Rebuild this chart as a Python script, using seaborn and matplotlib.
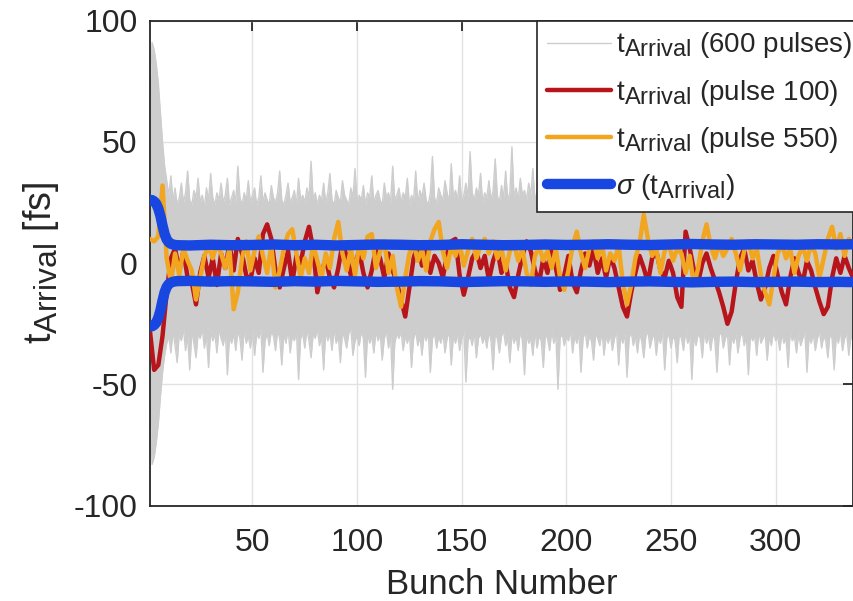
import numpy as np
import pandas as pd
import matplotlib
matplotlib.use("Agg")
import matplotlib.pyplot as plt
import matplotlib._mathtext as _mathtext
import seaborn as sns

# Upper envelope of the arrival time over all 600 pulses, bunch 1..337
env_upper = [
    70, 91, 88, 82, 74, 62, 50, 40, 34, 28, 36, 26, 31, 24, 27, 33, 25, 29, 38, 26,
    24, 30, 27, 35, 25, 28, 23, 31, 26, 37, 27, 24, 29, 26, 33, 25, 28, 35, 24, 27,
    30, 25, 40, 27, 24, 29, 26, 34, 25, 28, 31, 24, 27, 36, 25, 29, 26, 24, 32, 27,
    25, 29, 38, 26, 24, 28, 33, 25, 27, 30, 24, 35, 26, 28, 25, 31, 27, 42, 26, 29,
    24, 28, 26, 33, 25, 29, 37, 26, 24, 30, 27, 25, 34, 28, 26, 24, 31, 27, 39, 25,
    28, 26, 32, 24, 29, 27, 36, 25, 28, 30, 26, 24, 33, 27, 29, 25, 40, 26, 28, 31,
    25, 29, 27, 35, 24, 28, 26, 38, 25, 30, 27, 33, 26, 24, 29, 44, 27, 25, 31, 28,
    26, 34, 29, 25, 41, 27, 30, 26, 36, 25, 28, 33, 27, 46, 29, 26, 31, 28, 37, 25,
    29, 27, 34, 26, 30, 43, 28, 25, 32, 27, 38, 26, 29, 48, 27, 31, 26, 35, 28, 30,
    26, 33, 28, 39, 25, 30, 27, 35, 26, 29, 42, 27, 31, 25, 28, 36, 26, 30, 27, 33,
    25, 29, 38, 26, 31, 27, 34, 25, 28, 40, 26, 30, 27, 33, 25, 29, 36, 27, 31, 26,
    28, 35, 26, 30, 27, 41, 25, 29, 33, 26, 28, 37, 27, 30, 25, 44, 28, 31, 26, 34,
    27, 30, 25, 36, 28, 26, 32, 29, 39, 26, 28, 31, 25, 35, 27, 30, 26, 33, 28, 25,
    31, 27, 38, 26, 29, 34, 27, 25, 30, 42, 26, 28, 33, 27, 31, 25, 36, 28, 30, 26,
    29, 35, 27, 31, 26, 39, 28, 30, 25, 33, 27, 29, 37, 26, 31, 28, 34, 25, 30, 27,
    32, 26, 29, 36, 27, 31, 25, 40, 28, 30, 26, 34, 27, 29, 33, 26, 31, 28, 37, 27,
    30, 26, 35, 28, 31, 27, 33, 25, 29, 38, 27, 30, 26, 34, 28, 31, 29,
]
# Lower envelope, bunch 1..337
env_lower = [
    -60, -83, -80, -74, -66, -55, -45, -38, -33, -30, -37, -28, -34, -41, -29, -32, -27, -36, -30, -44,
    -28, -33, -39, -29, -31, -27, -35, -30, -43, -28, -32, -29, -37, -27, -31, -34, -28, -46, -30, -33,
    -29, -36, -28, -31, -40, -27, -33, -30, -35, -28, -38, -29, -31, -27, -45, -32, -29, -34, -28, -30,
    -36, -28, -31, -42, -29, -33, -27, -37, -30, -32, -28, -48, -31, -29, -35, -27, -32, -39, -29, -31,
    -27, -34, -30, -44, -28, -32, -29, -36, -27, -33, -30, -41, -28, -31, -35, -29, -27, -38, -32, -30,
    -34, -28, -31, -47, -29, -33, -30, -37, -28, -32, -29, -40, -31, -28, -35, -30, -52, -33, -29, -31,
    -28, -36, -30, -33, -29, -43, -31, -28, -34, -30, -38, -29, -32, -28, -45, -31, -29, -35, -30, -33,
    -29, -37, -31, -28, -42, -30, -33, -29, -36, -31, -28, -49, -32, -30, -34, -28, -39, -31, -29, -33,
    -30, -35, -28, -32, -44, -29, -31, -37, -30, -28, -34, -31, -41, -29, -33, -30, -36, -28, -32, -46,
    -29, -33, -31, -38, -28, -35, -30, -32, -43, -29, -31, -36, -28, -33, -30, -52, -31, -29, -34, -30,
    -32, -28, -37, -30, -33, -29, -45, -31, -28, -35, -30, -32, -40, -29, -31, -34, -28, -38, -30, -33,
    -29, -36, -31, -28, -42, -30, -33, -29, -47, -31, -28, -34, -30, -37, -29, -32, -39, -30, -28, -35,
    -31, -29, -38, -30, -33, -28, -44, -31, -29, -35, -30, -32, -41, -29, -31, -36, -28, -33, -30, -48,
    -30, -34, -29, -31, -39, -28, -33, -30, -36, -29, -32, -45, -30, -28, -35, -31, -29, -42, -30, -33,
    -29, -37, -31, -28, -34, -30, -46, -29, -32, -30, -38, -28, -33, -31, -29, -40, -30, -34, -28, -32,
    -30, -36, -29, -33, -31, -43, -28, -32, -30, -37, -29, -34, -31, -28, -45, -30, -33, -29, -36, -31,
    -28, -35, -30, -32, -39, -29, -31, -44, -30, -33, -28, -36, -31, -29, -38, -30, -32,
]

# Arrival time of pulse 100 (every 2nd bunch: 1, 3, 5, ...)
pulse_100 = [
    -28, -44, -42, -30, -12, 2, 6, -3, 5, -6,
    -8, -17, -4, 3, -6, 2, -9, 4, -2, 8,
    -3, 10, 4, -5, -7, 2, -4, 12, 16, 10,
    -3, -10, -2, 5, -8, 3, 0, 9, 15, 6,
    -12, -4, 2, -6, -10, -2, 8, 3, -5, 0,
    5, -4, -10, -3, 6, 2, -6, 4, -3, -8,
    -15, -22, -10, 2, 8, -1, 5, -4, 3, 0,
    -6, 4, 9, 10, -5, -13, -6, 2, 5, -2,
    3, -7, 1, 6, -4, 0, -10, -14, -5, 3,
    9, 5, -3, -8, 2, -4, 6, -2, -11, -5,
    3, -8, -12, -3, 4, -1, 6, -4, 2, -6,
    3, -2, -10, -18, -22, -12, -4, 3, -2, -8,
    2, 5, -3, -6, 1, -4, -14, -18, 13, 6,
    -3, -8, 0, 4, -2, -7, -12, -18, -25, -20,
    -8, 2, 6, -3, 1, -8, -15, -10, -2, 3,
    -5, -12, -17, -6, 2, -4, -8, 1, -3, -10,
    -16, -21, -18, -6, 2, -4, 3, -2, -6,
]

# Arrival time of pulse 550 (every 2nd bunch: 1, 3, 5, ...)
pulse_550 = [
    10, 9, 11, 32, 2, -8, 4, -5, 6, 1,
    -3, -15, -6, 3, 7, 2, 8, 4, -2, 6,
    -19, -12, 2, 9, -3, 5, 11, 3, -4, 7,
    -10, -3, 6, 12, 14, 4, -6, 2, -4, 8,
    1, -6, 4, -2, 10, 17, 4, -3, 6, -5,
    8, 2, 11, 12, -2, 5, 9, -4, 3, -10,
    -18, -6, 4, 8, 1, 6, -3, 9, 14, 17,
    5, -2, 7, 3, 8, -1, 5, 10, 2, 7,
    10, 4, 9, 2, 6, -3, 5, 8, 1, 6,
    -4, -9, 3, 7, 1, 5, -2, 6, -6, -11,
    -3, 7, 13, 4, -2, 6, 9, 2, 8, -3,
    4, 1, 7, -8, -17, -9, 2, 8, 20, 10,
    3, 6, -4, 5, 8, 1, 6, 4, -4, 3,
    -9, -2, 9, 16, 7, 2, 8, 3, 6, 10,
    4, -3, 5, 9, 2, 6, -5, -12, -17, -6,
    4, 8, 2, 6, -4, 3, 7, 1, 8, 4,
    -6, 2, 10, 15, 6, 12, 3, 10, 7,
]

# Standard deviation over the 600 pulses per bunch
sigma_bunch = [1, 2, 3, 4, 5, 6, 7, 8, 9, 10, 11, 12, 13, 14,
               20, 30, 40, 50, 60, 70, 80, 90, 100, 110, 120, 130, 140, 150,
               160, 170, 180, 190, 200, 210, 220, 230, 240, 250, 260, 270,
               280, 290, 300, 310, 320, 330, 337]
sigma_vals = [26.0, 26.0, 25.5, 24.5, 22.5, 19.5, 15.5, 12.0, 9.8, 8.6, 8.0, 7.7, 7.5, 7.4,
              7.3, 7.6, 7.4, 7.5, 7.7, 7.4, 7.6, 7.3, 7.5, 7.7, 7.6, 7.4, 7.5, 7.8,
              7.6, 7.4, 7.5, 7.7, 7.5, 7.6, 7.8, 7.6, 7.5, 7.7, 7.9, 7.7,
              7.6, 7.8, 7.7, 7.6, 7.8, 7.7, 7.8]

x_ticks = [50, 100, 150, 200, 250, 300]
y_ticks = [-100, -50, 0, 50, 100]

df_up = pd.DataFrame({"bunch": 1 + np.arange(len(env_upper)), "t": env_upper})
df_lo = pd.DataFrame({"bunch": 1 + np.arange(len(env_lower)), "t": env_lower})
df_p100 = pd.DataFrame({"bunch": 1 + 2 * np.arange(len(pulse_100)), "t": pulse_100})
df_p550 = pd.DataFrame({"bunch": 1 + 2 * np.arange(len(pulse_550)), "t": pulse_550})
df_sig = pd.DataFrame({"bunch": sigma_bunch, "sigma": sigma_vals})
df_sig["neg"] = -df_sig["sigma"]

sns.set_theme(style="white")
plt.rcParams["font.family"] = ["Liberation Sans", "DejaVu Sans"]
plt.rcParams["mathtext.fontset"] = "custom"
plt.rcParams["mathtext.rm"] = "Liberation Sans"
plt.rcParams["mathtext.it"] = "Liberation Sans:italic"
plt.rcParams["mathtext.sf"] = "Liberation Sans"
# larger subscripts
_mathtext.SHRINK_FACTOR = 0.85

GRAY = "#cdcdcd"
RED = "#b8141b"
ORANGE = "#f2a51f"
BLUE = "#1747e0"
INK = "#262626"

fig = plt.figure(figsize=(8.54, 6.01), dpi=100)
ax = fig.add_axes([0.1756, 0.1586, 0.8232, 0.807])

# all pulses: band between lower and upper envelope
ax.fill_between(df_up["bunch"], df_lo["t"], df_up["t"], color=GRAY, lw=0, zorder=2)
sns.lineplot(data=df_up, x="bunch", y="t", ax=ax, color=GRAY, lw=1,
             zorder=2, label=r"$\mathregular{t_{Arrival}}$ (600 pulses)")
sns.lineplot(data=df_lo, x="bunch", y="t", ax=ax, color=GRAY, lw=1,
             zorder=2, legend=False)

sns.lineplot(data=df_p100, x="bunch", y="t", ax=ax, color=RED, lw=3.2,
             zorder=3, label=r"$\mathregular{t_{Arrival}}$ (pulse 100)")
sns.lineplot(data=df_p550, x="bunch", y="t", ax=ax, color=ORANGE, lw=3.2,
             zorder=4, label=r"$\mathregular{t_{Arrival}}$ (pulse 550)")

sns.lineplot(data=df_sig, x="bunch", y="sigma", ax=ax, color=BLUE, lw=7.5,
             zorder=5, solid_capstyle="round",
             label=r"$\sigma$ ($\mathregular{t_{Arrival}}$)")
sns.lineplot(data=df_sig, x="bunch", y="neg", ax=ax, color=BLUE, lw=7.5,
             zorder=5, solid_capstyle="round", legend=False)

ax.set_xlim(1, 337)
ax.set_ylim(-100, 100)
ax.set_xticks(x_ticks)
ax.set_yticks(y_ticks)
ax.set_yticklabels([str(v) for v in y_ticks])
ax.grid(True, color="#e2e2e2", lw=1.0, zorder=0)
ax.set_axisbelow(True)

for sp in ax.spines.values():
    sp.set_visible(True)
    sp.set_color(INK)
    sp.set_linewidth(1.3)
ax.tick_params(axis="both", which="both", direction="in", length=7, width=1.3,
               top=True, right=True, labelsize=23, colors=INK, labelcolor=INK)
ax.tick_params(axis="x", pad=16)
ax.tick_params(axis="y", pad=9)

ax.set_xlabel("Bunch Number", fontsize=25, color=INK, labelpad=7)
ax.set_ylabel(r"$\mathregular{t_{Arrival}}$ [fs]", fontsize=27,
              color=INK, labelpad=9)

leg = ax.legend(loc="upper left", bbox_to_anchor=(0.5505, 1.0), fontsize=20,
                frameon=True, fancybox=False, framealpha=1, edgecolor=INK,
                handlelength=2.3, handletextpad=0.2, labelspacing=0.62,
                borderpad=0.35, borderaxespad=0)
leg.get_frame().set_linewidth(1.2)
leg.set_zorder(10)

fig.savefig("out.png", dpi=100)
